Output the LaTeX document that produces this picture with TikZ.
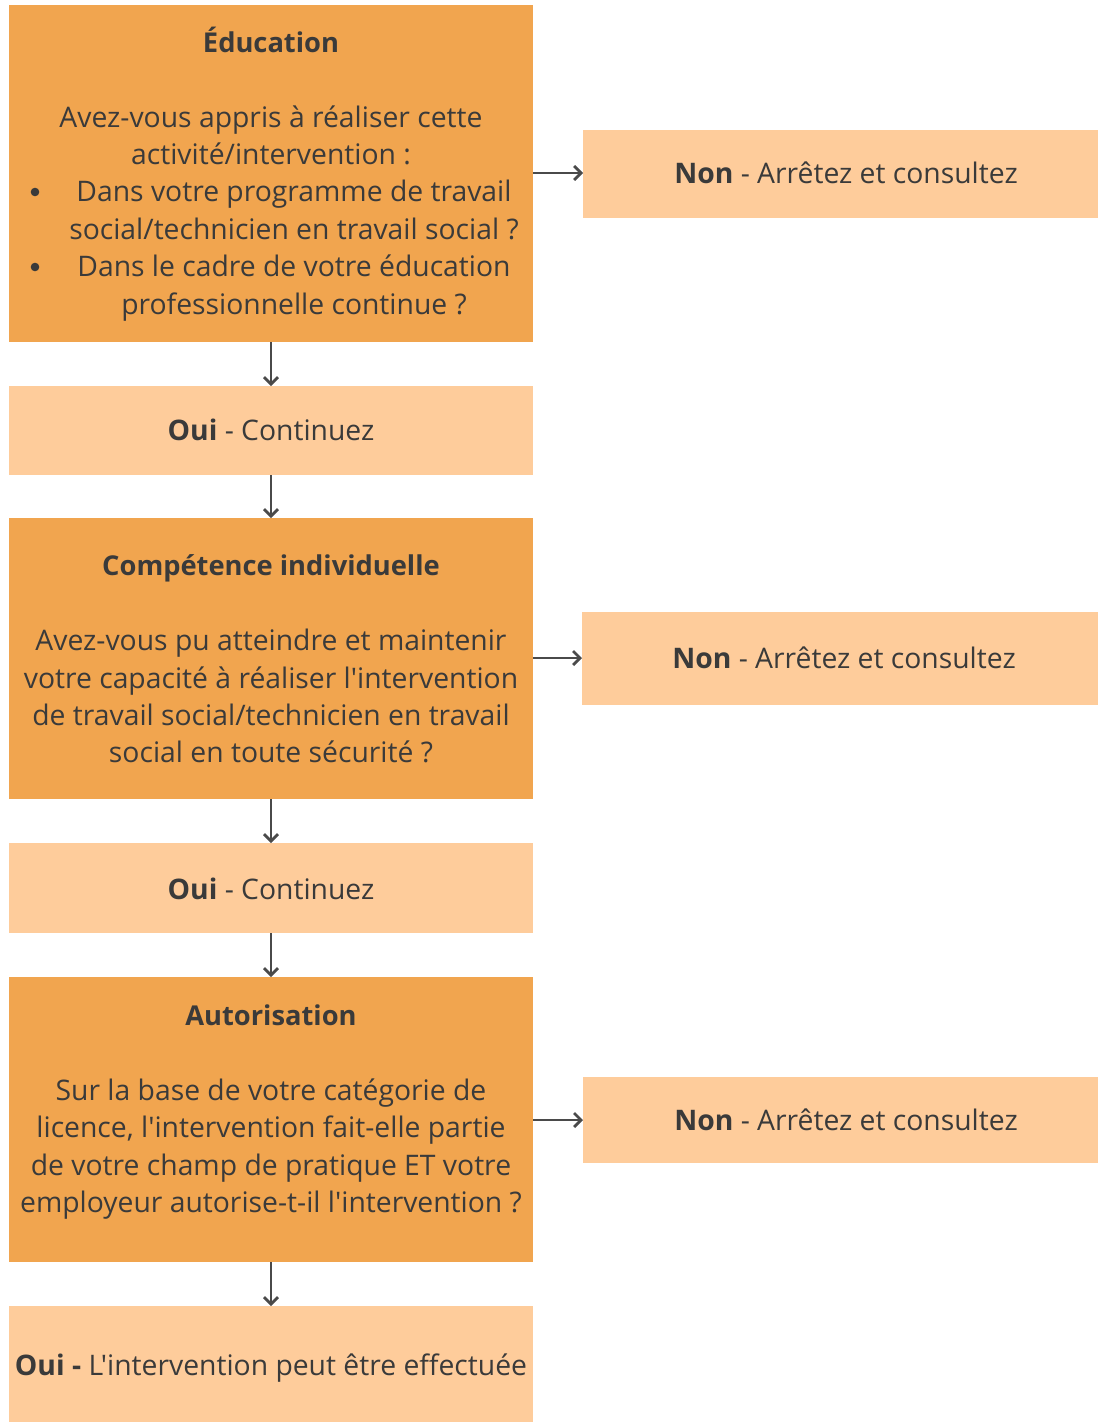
\documentclass[tikz,border=0pt]{standalone}
\usepackage{fontspec}
\newfontfamily\myfont{Open Sans}
\usetikzlibrary{arrows.meta}
\definecolor{dark}{HTML}{F1A54F}
\definecolor{light}{HTML}{FECC9B}
\definecolor{ink}{HTML}{3A3A3A}
\definecolor{arr}{HTML}{4A4A4A}
\tikzset{
  box/.style={draw=none, inner sep=0pt, outer sep=0pt},
  qbox/.style={box, fill=dark},
  abox/.style={box, fill=light},
  txt/.style={anchor=base, inner sep=0pt, text=ink, font=\myfont\fontsize{28.3}{34}\selectfont},
  ttl/.style={txt, font=\myfont\fontsize{27.3}{34}\selectfont\bfseries},
  conn/.style={draw=arr, line width=2.8pt, -{Straight Barb[length=7pt,width=14pt,line width=2.8pt]}}
}
\begin{document}
\begin{tikzpicture}[x=1pt,y=-1pt]
\useasboundingbox (0,0) rectangle (1098,1422);
% boxes
\path[qbox] (9,5) rectangle (533,342) node[box, midway] (q1) {};
\path[abox] (583,130) rectangle (1098,218) node[box, midway] (n1) {};
\path[abox] (9,386) rectangle (533,475) node[box, midway] (o1) {};
\path[qbox] (9,518) rectangle (533,799) node[box, midway] (q2) {};
\path[abox] (582,612) rectangle (1098,705) node[box, midway] (n2) {};
\path[abox] (9,843) rectangle (533,933) node[box, midway] (o2) {};
\path[qbox] (9,977) rectangle (533,1262) node[box, midway] (q3) {};
\path[abox] (583,1077) rectangle (1098,1163) node[box, midway] (n3) {};
\path[abox] (9,1306) rectangle (533,1422) node[box, midway] (o3) {};
\coordinate (q1b) at (271,342); \coordinate (q1r) at (533,173);
\coordinate (o1t) at (271,386); \coordinate (o1b) at (271,475);
\coordinate (q2t) at (271,518); \coordinate (q2b) at (271,799); \coordinate (q2r) at (533,658);
\coordinate (o2t) at (271,843); \coordinate (o2b) at (271,933);
\coordinate (q3t) at (271,977); \coordinate (q3b) at (271,1262); \coordinate (q3r) at (533,1120);
\coordinate (o3t) at (271,1306);
\coordinate (n1l) at (583,173); \coordinate (n2l) at (582,658); \coordinate (n3l) at (583,1120);
% texts box 1
\node[ttl] (t1) at (271,52) {Éducation};
\node[txt] (t1a) at (271,127) {Avez-vous appris à réaliser cette};
\node[txt] (t1b) at (271,164.5) {activité/intervention :};
\node[txt] (t1c) at (294,201.5) {Dans votre programme de travail};
\node[txt] (t1d) at (294,239) {social/technicien en travail social ?};
\node[txt] (t1e) at (294,276.5) {Dans le cadre de votre éducation};
\node[txt] (t1f) at (294,314) {professionnelle continue ?};
\fill[ink] (35,192) circle (4.3pt) coordinate (b1);
\fill[ink] (35,267) circle (4.3pt) coordinate (b2);
% box 2
\node[ttl] (t2) at (271,575) {Compétence individuelle};
\node[txt] (t2a) at (271,650) {Avez-vous pu atteindre et maintenir};
\node[txt] (t2b) at (271,688) {votre capacité à réaliser l'intervention};
\node[txt] (t2c) at (271,725) {de travail social/technicien en travail};
\node[txt] (t2d) at (271,762.5) {social en toute sécurité ?};
% box 3
\node[ttl] (t3) at (271,1025) {Autorisation};
\node[txt] (t3a) at (271,1100) {Sur la base de votre catégorie de};
\node[txt] (t3b) at (271,1137) {licence, l'intervention fait-elle partie};
\node[txt] (t3c) at (271,1175) {de votre champ de pratique ET votre};
\node[txt] (t3d) at (271,1212) {employeur autorise-t-il l'intervention ?};
% answers
\node[txt] (a1) at (846,183) {\textbf{Non} - Arrêtez et consultez};
\node[txt] (a2) at (844,668) {\textbf{Non} - Arrêtez et consultez};
\node[txt] (a3) at (846,1130) {\textbf{Non} - Arrêtez et consultez};
\node[txt] (a4) at (271,440) {\textbf{Oui} - Continuez};
\node[txt] (a5) at (271,899) {\textbf{Oui} - Continuez};
\node[txt] (a6) at (271,1375) {\textbf{Oui -} L'intervention peut être effectuée};
% connectors
\draw[conn] (q1b) -- (o1t);
\draw[conn] (o1b) -- (q2t);
\draw[conn] (q2b) -- (o2t);
\draw[conn] (o2b) -- (q3t);
\draw[conn] (q3b) -- (o3t);
\draw[conn] (q1r) -- (n1l);
\draw[conn] (q2r) -- (n2l);
\draw[conn] (q3r) -- (n3l);
\end{tikzpicture}
\end{document}
